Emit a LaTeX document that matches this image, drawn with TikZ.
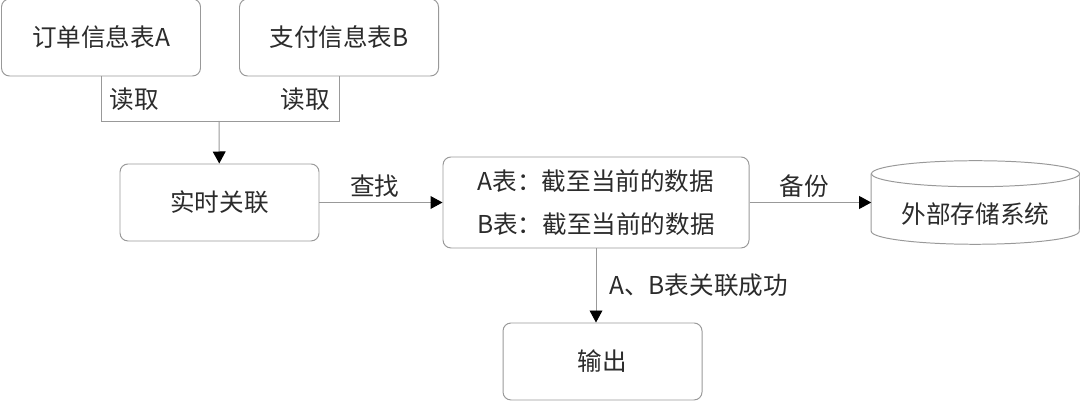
\documentclass[tikz,border=0pt]{standalone}
\usepackage{fontspec}
\setmainfont{Noto Sans CJK SC}
\usetikzlibrary{positioning}
\usetikzlibrary{arrows.meta}

\definecolor{linegray}{HTML}{999999}
\definecolor{textgray}{HTML}{2B2B2B}

\begin{document}
\begin{tikzpicture}[font=\fontsize{17.5pt}{31pt}\selectfont, text=textgray]
        \useasboundingbox (0,0) rectangle (27,10.025);

        \begin{scope}[every node/.style={draw=linegray,line width=0.7pt,rounded corners=0.2cm,
            inner sep=0pt,minimum height=1.925cm,minimum width=4.975cm,align=center}]
            \node (tabA) at (2.525,9.0875) {订单信息表A};
            \node (tabB) at (8.475,9.0875) {支付信息表B};
            \node (join) at (5.4875,4.9625) {实时关联};
            \node[minimum width=7.65cm,minimum height=2.275cm] (state) at (14.9,4.9625)
                {A表：截至当前的数据\\B表：截至当前的数据};
            \node (out) at (15.0625,0.9875) {输出};
        \end{scope}

        % storage cylinder
        \node[minimum width=5.2cm,minimum height=2.075cm,inner sep=0pt] (store) at (24.3875,4.9625) {\raisebox{-15pt}[0pt][0pt]{外部存储系统}};
        \draw [linegray,line width=0.7pt] ([yshift=-0.325cm]store.north) ellipse [x radius=2.6cm,y radius=0.325cm];
        \draw [linegray,line width=0.7pt] ([yshift=-0.325cm]store.north west) -- ([yshift=0.325cm]store.south west)
            arc [start angle=180,end angle=360,x radius=2.6cm,y radius=0.325cm] -- ([yshift=-0.325cm]store.north east);

        \coordinate (merge) at (5.475,7.0);

        \begin{scope}[every node/.style={inner sep=6pt},
            every edge/.style={draw=linegray,line width=0.7pt}]
            \draw [linegray,line width=0.7pt] (tabA.south) |- node[pos=0.25,right,text=textgray] {读取} (merge);
            \draw [linegray,line width=0.7pt] (tabB.south) |- node[pos=0.25,left,text=textgray] {读取} (merge);
            \path [-{Triangle[length=0.3cm,width=0.32cm,color=black]}] (merge) edge (join);
            \path [-{Triangle[length=0.3cm,width=0.32cm,color=black]}] (join) edge node[above,pos=0.45,inner sep=3pt] {查找} (state);
            \path [-{Triangle[length=0.3cm,width=0.32cm,color=black]}] (state) edge node[above,pos=0.45,inner sep=3pt] {备份} (store);
            \path [-{Triangle[length=0.3cm,width=0.32cm,color=black]}] (state.south) edge node[right,inner sep=9pt] {A、B表关联成功} (state.south |- out.north);
        \end{scope}
    \end{tikzpicture}
\end{document}
